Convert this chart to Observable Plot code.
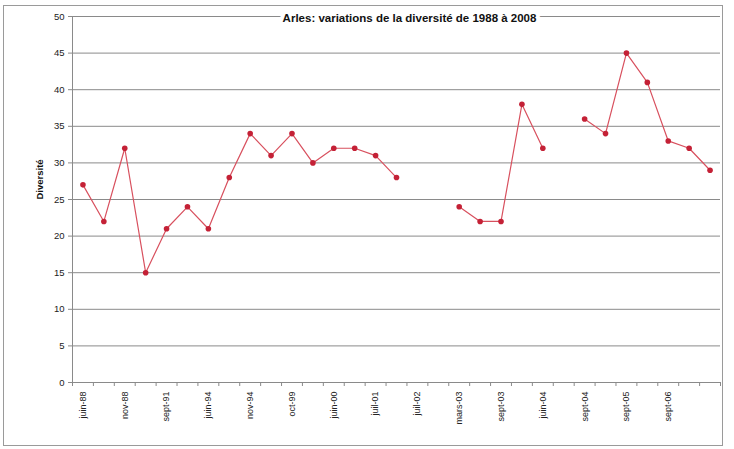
<!DOCTYPE html>
<html>
<head>
<meta charset="utf-8">
<script src="https://cdn.jsdelivr.net/npm/d3@7"></script>
<script src="https://cdn.jsdelivr.net/npm/@observablehq/plot@0.6"></script>
<style>
  html, body { margin: 0; padding: 0; background: #fff; }
  #wrap { position: relative; width: 734px; height: 449px; overflow: hidden; }
  #border { position: absolute; left: 3px; top: 5px; width: 718px; height: 439px; border: 1px solid #9a9a9a; pointer-events: none; }
  svg { display: block; }
</style>
</head>
<body>
<div id="wrap"><div id="border"></div></div>
<script>
const title = "Arles: variations de la diversité de 1988 à 2008";
const yLabel = "Diversité";
const categories = ["juin-88","c1","nov-88","c3","sept-91","c5","juin-94","c7","nov-94","c9",
  "oct-99","c11","juin-00","c13","juil-01","c15","juil-02","c17","mars-03","c19",
  "sept-03","c21","juin-04","c23","sept-04","c25","sept-05","c27","sept-06","c29","c30"];
const shownLabels = ["juin-88","nov-88","sept-91","juin-94","nov-94","oct-99","juin-00","juil-01",
  "juil-02","mars-03","sept-03","juin-04","sept-04","sept-05","sept-06"];
const diversite = [27,22,32,15,21,24,21,28,34,31,34,30,32,32,31,28,null,null,24,22,22,38,32,null,36,34,45,41,33,32,29];
const yTicks = [0,5,10,15,20,25,30,35,40,45,50];

const data = categories.map((c, i) => ({cat: c, pos: i + 0.5, v: diversite[i]}));
const boundaries = d3.range(categories.length + 1);
const labelPos = data.filter(d => shownLabels.includes(d.cat)).map(d => d.pos);
const labelOf = new Map(data.map(d => [d.pos, d.cat]));

const chart = Plot.plot({
  width: 734,
  height: 449,
  marginLeft: 72,
  marginRight: 14,
  marginTop: 16,
  marginBottom: 67,
  style: {fontFamily: "'Liberation Sans', Arial, sans-serif", color: "#222", background: "transparent"},
  x: {type: "linear", domain: [0, categories.length], axis: null},
  y: {domain: [0, 50], axis: null},
  marks: [
    Plot.gridY(yTicks, {stroke: "#8a8a8a", strokeOpacity: 1, strokeWidth: 1}),
    Plot.ruleX([0], {stroke: "#8a8a8a"}),
    Plot.axisY(yTicks, {tickSize: 4, tickPadding: 4, fontSize: 9.5, label: null, stroke: "#8a8a8a"}),
    Plot.axisX(boundaries, {tickSize: 4, tickFormat: () => "", label: null, stroke: "#8a8a8a"}),
    Plot.axisX(labelPos, {tickSize: 0, tickPadding: 9, tickRotate: -90, fontSize: 9, label: null, tickFormat: d => labelOf.get(d)}),
    Plot.line(data, {x: "pos", y: "v", stroke: "#d8505e", strokeWidth: 1.2}),
    Plot.dot(data, {x: "pos", y: "v", r: 2.8, fill: "#c42136", stroke: "none"}),
    Plot.text([title], {frameAnchor: "top", dx: 13, dy: 2, lineAnchor: "middle", fontSize: 11.5, fontWeight: "bold", fill: "#111", stroke: "white", strokeWidth: 8}),
    Plot.text([yLabel], {frameAnchor: "left", dx: -33, rotate: -90, fontSize: 9.5, fontWeight: "bold", fill: "#111"})
  ]
});
document.getElementById("wrap").prepend(chart);
</script>
</body>
</html>
